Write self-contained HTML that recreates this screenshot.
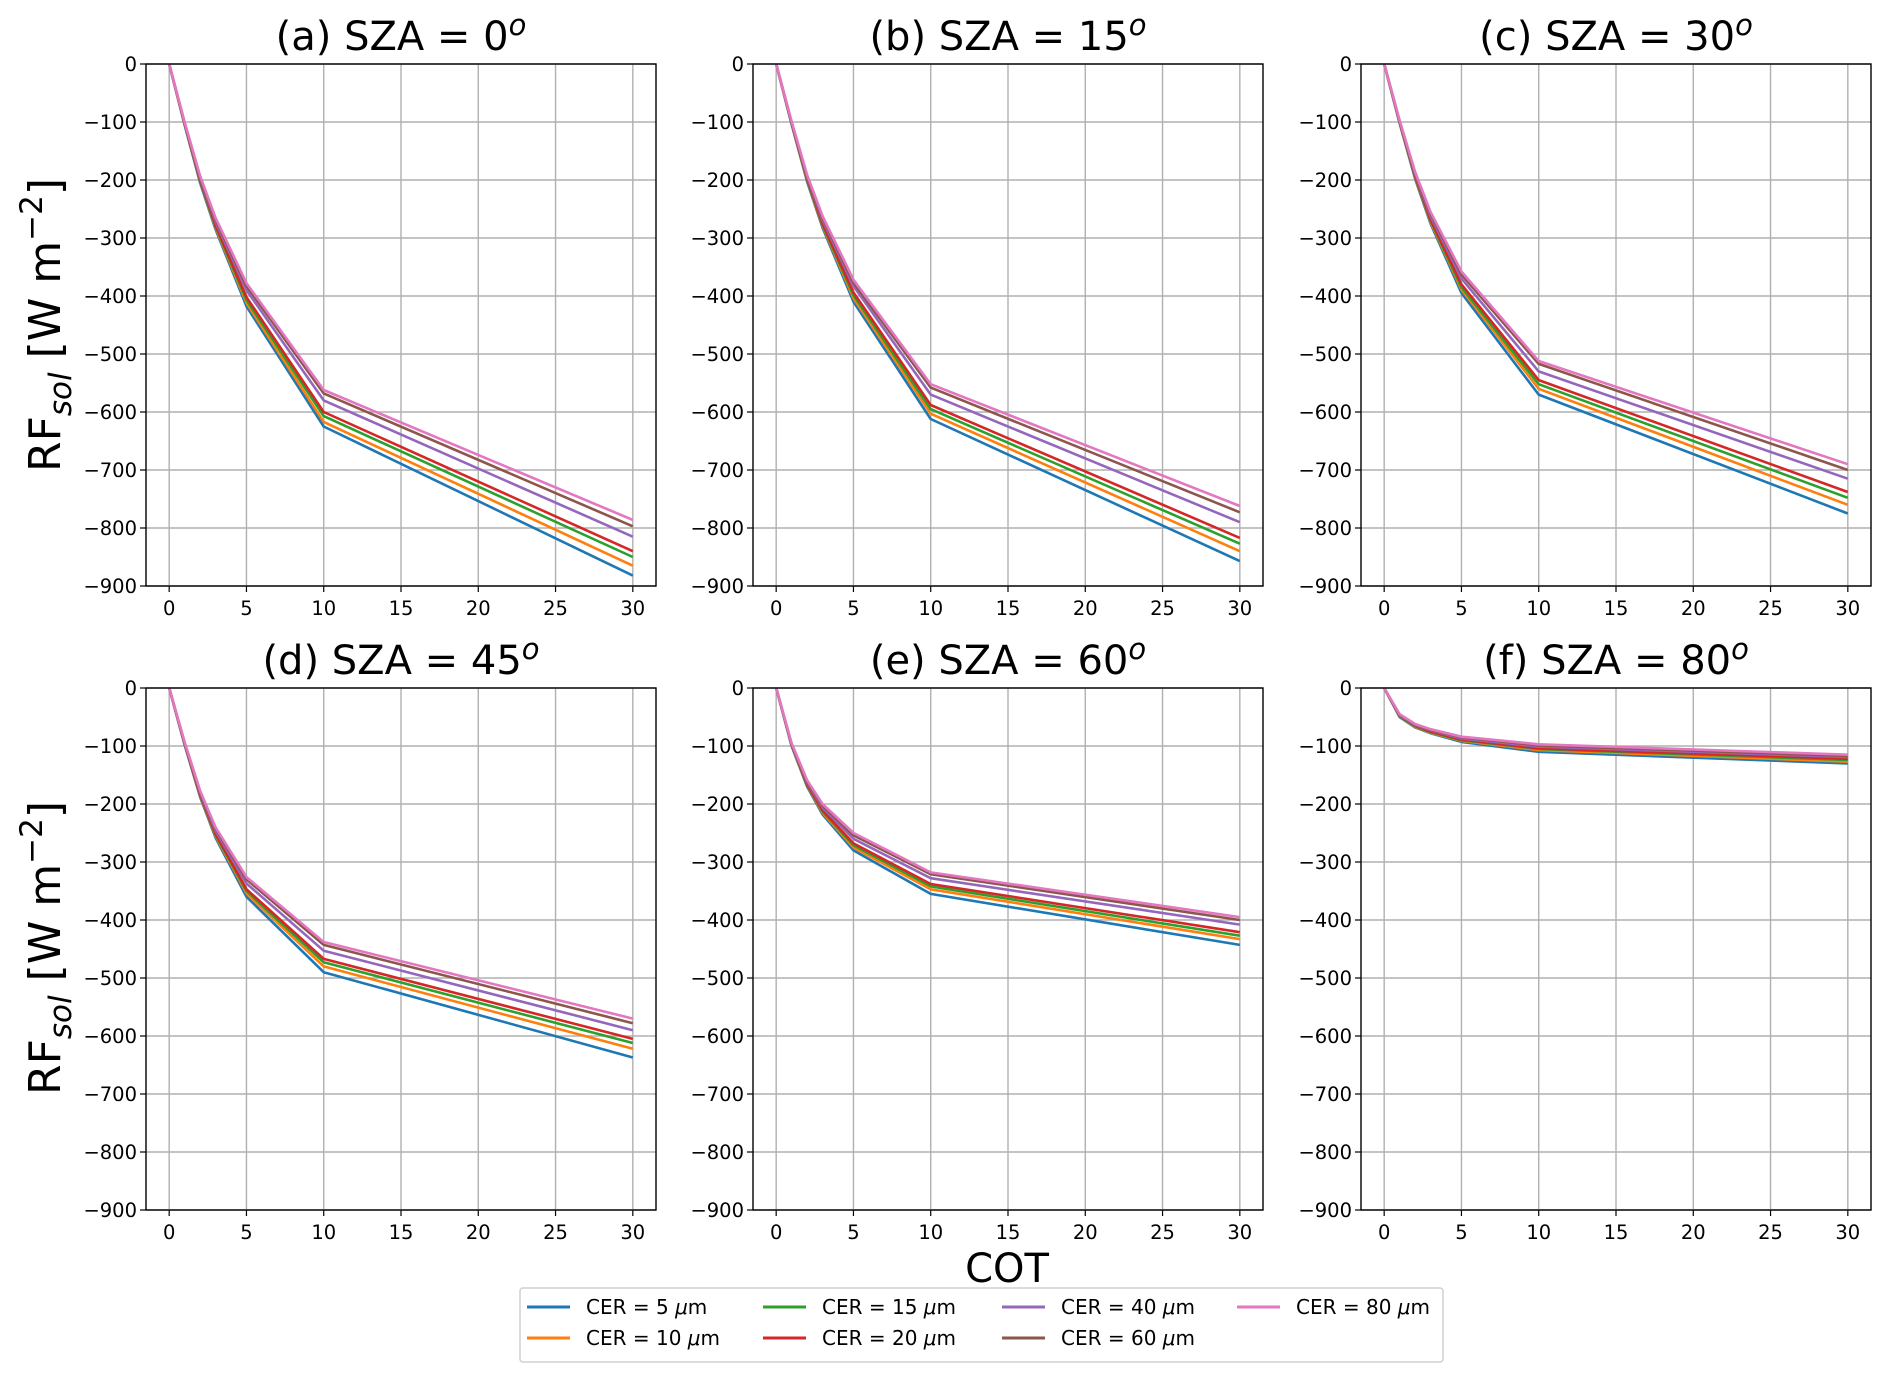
<!DOCTYPE html>
<html><head><meta charset="utf-8"><style>
body{margin:0;background:#fff;}
svg{display:block;font-family:"DejaVu Sans","Liberation Sans",sans-serif;}
</style></head><body>
<svg id="fig" width="1892" height="1382" viewBox="0 0 1892 1382" xmlns="http://www.w3.org/2000/svg">
<rect width="1892" height="1382" fill="#fff"/>
<text transform="translate(60,325) rotate(-90)" text-anchor="middle" font-size="44">RF<tspan font-size="31" font-style="italic" dy="11">sol</tspan><tspan dy="-11"> [W m</tspan><tspan font-size="31" dy="-18">−2</tspan><tspan dy="18">]</tspan></text>
<text transform="translate(60,948) rotate(-90)" text-anchor="middle" font-size="44">RF<tspan font-size="31" font-style="italic" dy="11">sol</tspan><tspan dy="-11"> [W m</tspan><tspan font-size="31" dy="-18">−2</tspan><tspan dy="18">]</tspan></text>
<text x="1007" y="1282" text-anchor="middle" font-size="40">COT</text>
<g id="legend"></g>
</svg>
<script>
const xs = [0, 1, 2, 3, 5, 10, 30];
const cerLabels = ["CER = 5", "CER = 10", "CER = 15", "CER = 20", "CER = 40", "CER = 60", "CER = 80"];
const colors = ["#1f77b4","#ff7f0e","#2ca02c","#d62728","#9467bd","#8c564b","#e377c2"];
const panelTitles = ["(a) SZA = 0", "(b) SZA = 15", "(c) SZA = 30", "(d) SZA = 45", "(e) SZA = 60", "(f) SZA = 80"];
const xTicks = [0, 5, 10, 15, 20, 25, 30];
const yTicks = [0, -100, -200, -300, -400, -500, -600, -700, -800, -900];
const panelA = [[0,-105,-205,-285,-418,-625,-882],[0,-104,-203,-282,-412,-617,-865],[0,-104,-202,-280,-407,-607,-850],[0,-103,-200,-278,-402,-600,-840],[0,-102,-197,-272,-390,-580,-815],[0,-101,-195,-268,-383,-568,-797],[0,-100,-193,-265,-378,-562,-786]];
const panelB = [[0,-104,-203,-282,-410,-612,-857],[0,-103,-201,-279,-404,-603,-840],[0,-103,-200,-277,-399,-595,-827],[0,-102,-198,-275,-394,-588,-817],[0,-101,-195,-269,-383,-570,-790],[0,-100,-193,-265,-377,-558,-773],[0,-99,-191,-262,-372,-552,-762]];
const panelC = [[0,-102,-198,-275,-395,-570,-775],[0,-101,-196,-272,-389,-560,-760],[0,-101,-195,-270,-385,-552,-748],[0,-100,-193,-268,-380,-545,-738],[0,-99,-190,-262,-370,-530,-715],[0,-98,-188,-258,-363,-517,-700],[0,-97,-186,-255,-358,-512,-690]];
const panelD = [[0,-98,-188,-258,-360,-490,-637],[0,-97,-186,-255,-354,-480,-622],[0,-97,-185,-253,-350,-473,-612],[0,-96,-184,-251,-347,-467,-605],[0,-95,-181,-246,-337,-453,-590],[0,-94,-179,-242,-330,-443,-578],[0,-93,-177,-240,-326,-438,-570]];
const panelE = [[0,-100,-170,-218,-280,-355,-443],[0,-99,-168,-215,-275,-347,-433],[0,-99,-167,-213,-271,-342,-427],[0,-98,-166,-211,-268,-338,-421],[0,-97,-163,-206,-260,-328,-408],[0,-96,-161,-203,-254,-321,-400],[0,-95,-159,-200,-250,-318,-395]];
const panelF = [[0,-50,-68,-78,-93,-110,-130],[0,-49,-67,-77,-91,-107,-127],[0,-49,-66,-76,-90,-105,-124],[0,-48,-65,-75,-89,-104,-122],[0,-47,-64,-73,-87,-101,-119],[0,-46,-63,-72,-85,-99,-117],[0,-45,-62,-71,-84,-97,-115]];
const panels = [panelA, panelB, panelC, panelD, panelE, panelF];

const NS = "http://www.w3.org/2000/svg";
const svg = document.getElementById("fig");
function mk(tag, attrs, parent){const e=document.createElementNS(NS,tag);for(const k in attrs)e.setAttribute(k,attrs[k]);(parent||svg).appendChild(e);return e;}
const lefts=[146,753,1361], tops=[64,688], W=510, H=522;
const XMIN=-1.5, XMAX=31.5, YMIN=-900, YMAX=0;
const fmt=v=>v<0?"−"+Math.abs(v):String(v);

panels.forEach((data,p)=>{
  const L=lefts[p%3], T=tops[Math.floor(p/3)];
  const sx=v=>L+(v-XMIN)/(XMAX-XMIN)*W;
  const sy=v=>T+(YMAX-v)/(YMAX-YMIN)*H;
  const g=mk("g",{});
  
  
  xTicks.forEach(t=>{
    const x=sx(t);
    const gl=mk("line",{x1:x,x2:x,y1:T,y2:T+H,stroke:"#b0b0b0","stroke-width":1.4},g);
    
    
    mk("line",{x1:x,x2:x,y1:T+H,y2:T+H+6,stroke:"#000","stroke-width":1.2},g);
    const tl=mk("text",{x:x,y:T+H+29,"text-anchor":"middle","font-size":19.5},g);
    tl.textContent=fmt(t);
    
    
  });
  yTicks.forEach(t=>{
    const y=sy(t);
    const gl=mk("line",{x1:L,x2:L+W,y1:y,y2:y,stroke:"#b0b0b0","stroke-width":1.4},g);
    
    
    mk("line",{x1:L-6,x2:L,y1:y,y2:y,stroke:"#000","stroke-width":1.2},g);
    const tl=mk("text",{x:L-9,y:y+7,"text-anchor":"end","font-size":19.5},g);
    tl.textContent=fmt(t);
    
    
  });
  data.forEach((series,s)=>{
    const pts=series.map((v,i)=>sx(xs[i]).toFixed(1)+","+sy(v).toFixed(1)).join(" ");
    const pl=mk("polyline",{points:pts,fill:"none",stroke:colors[s],"stroke-width":2.6,"stroke-linejoin":"round"},g);
    
    
  });
  const fr=mk("rect",{x:L,y:T,width:W,height:H,fill:"none",stroke:"#000","stroke-width":1.4},g);
  
  
  const tt=mk("text",{x:L+W/2,y:T-14,"text-anchor":"middle","font-size":40},g);
  
  
  tt.appendChild(document.createTextNode(panelTitles[p]));
  const sup=mk("tspan",{"font-size":29,"font-style":"italic",dy:-15},tt);
  sup.textContent="o";
});

const lg=document.getElementById("legend");
const box=mk("rect",{x:520,y:1288,width:923,height:74,fill:"#fff",stroke:"#d0d0d0","stroke-width":1.5,rx:3},lg);


const colX=[527,763,1002,1237];
cerLabels.forEach((lab,i)=>{
  const c=Math.floor(i/2), r=i%2;
  const y=r?1338:1307;
  const e=mk("g",{},lg);
  
  
  mk("line",{x1:colX[c],x2:colX[c]+43,y1:y,y2:y,stroke:colors[i],"stroke-width":3},e);
  const t=mk("text",{x:colX[c]+59,y:y+7,"font-size":20},e);
  t.appendChild(document.createTextNode(lab+" "));
  const mu=mk("tspan",{"font-style":"italic"},t); mu.textContent="μ";
  t.appendChild(document.createTextNode("m"));
});
</script>
</body></html>
